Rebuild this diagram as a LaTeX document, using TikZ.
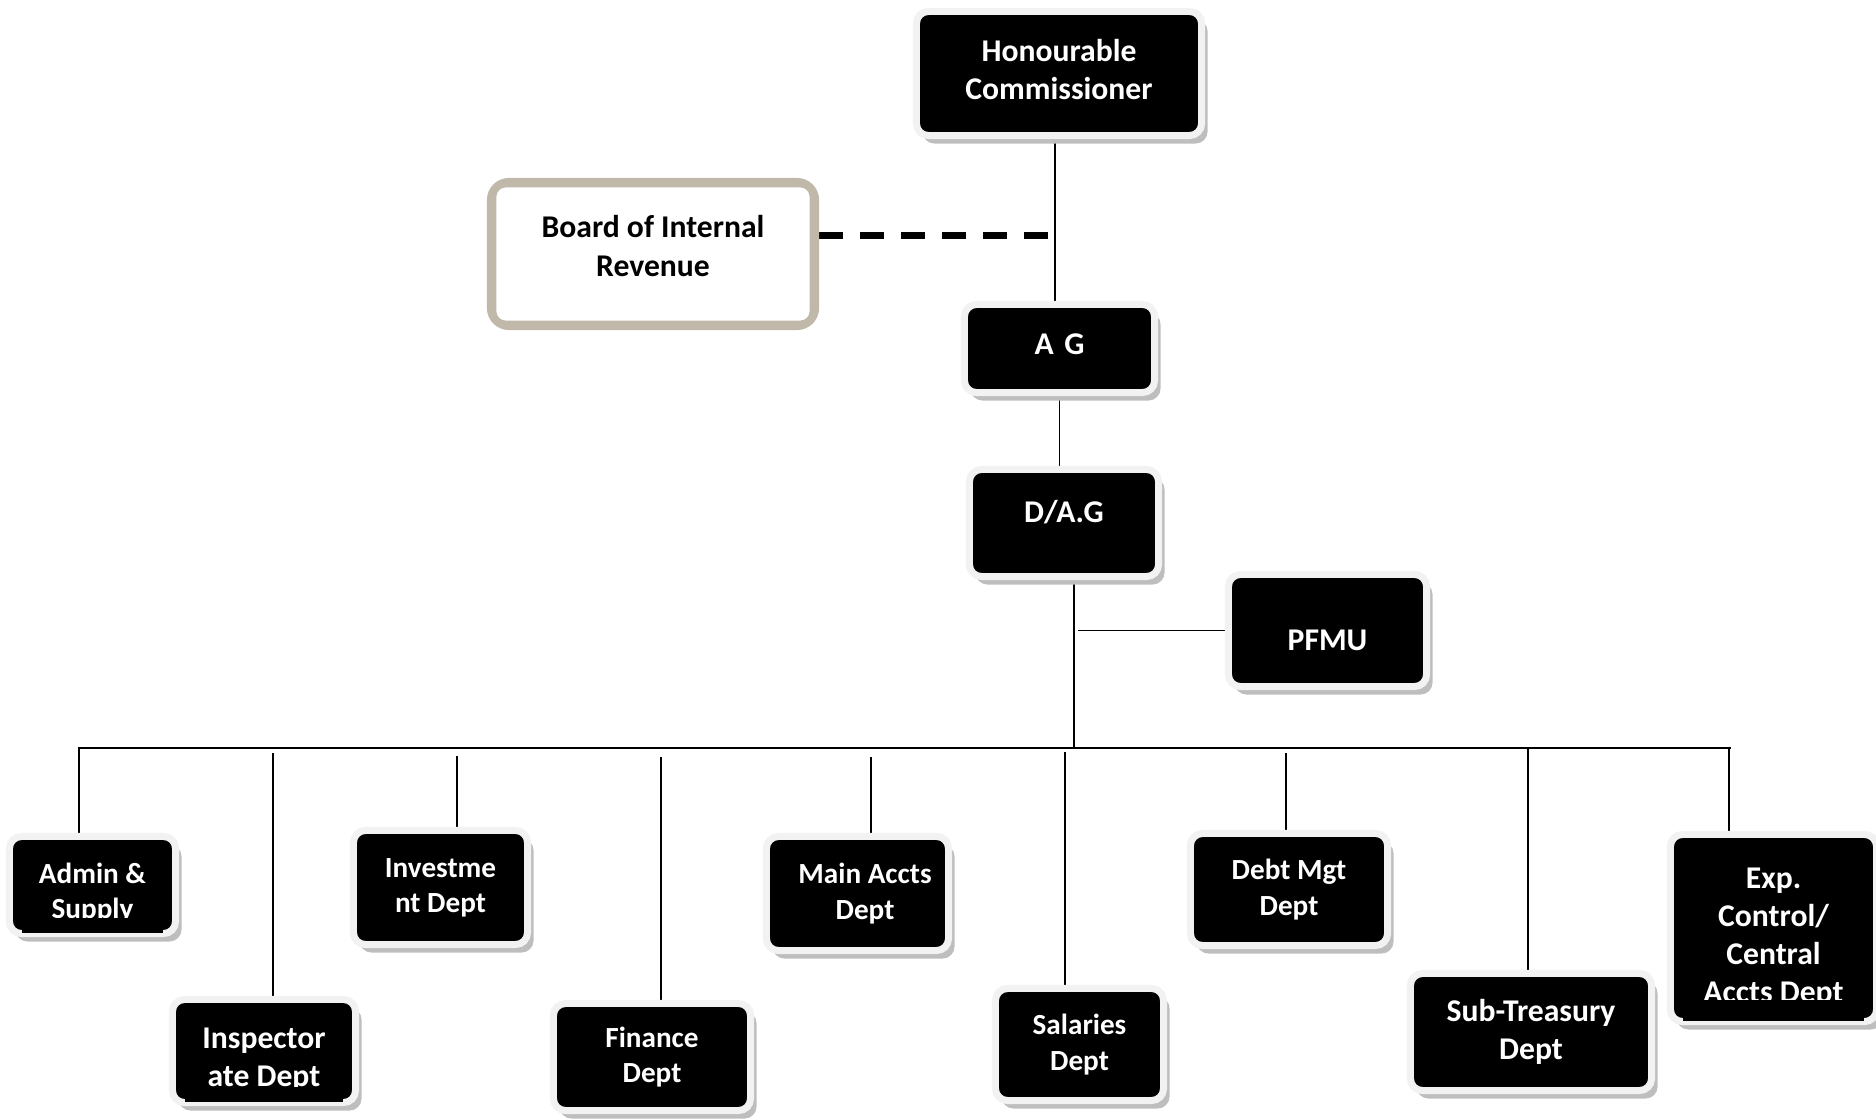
\documentclass[tikz,border=0pt]{standalone}
\usepackage{fontspec}
\setmainfont{Carlito}
\usetikzlibrary{calc, shadows, backgrounds}

\definecolor{rim}{RGB}{242,242,242}
\definecolor{shade}{RGB}{190,190,190}
\definecolor{taupe}{RGB}{192,185,170}

\begin{document}
\begin{tikzpicture}[x=0.01cm, y=-0.01cm,
 unit/.style={rectangle, rounded corners=0.12cm, fill=black, draw=rim, line width=0.07cm,
  text=white, align=center, inner sep=0pt, font=\bfseries\fontsize{9}{10.8}\selectfont,
  drop shadow={shadow xshift=0.06cm, shadow yshift=-0.08cm, fill=shade, opacity=1}},
 small/.style={font=\bfseries\fontsize{8.3}{10}\selectfont},
 board/.style={rectangle, rounded corners=0.18cm, fill=white, draw=taupe, line width=0.08cm,
  align=center, font=\bfseries\fontsize{9}{11}\selectfont},
 link/.style={line width=0.5pt}]
\useasboundingbox (0,0) rectangle (1876,1118);

\node[unit, minimum width=2.85cm, minimum height=1.24cm] (comm) at (1059,73.5) {Honourable\\Commissioner\rule[-2.3pt]{0pt}{2.3pt}};
\node[board, minimum width=3.24cm, minimum height=1.44cm] (bir) at (653,254) {Board of Internal\\Revenue\rule[-4.6pt]{0pt}{4.6pt}};
\draw[taupe, line width=0.02cm, rounded corners=0.1cm] ($(bir.south west)+(8.5,-8.5)$) rectangle ($(bir.north east)+(-8.5,8.5)$);
\node[unit, minimum width=1.90cm, minimum height=0.88cm, text height=5.8pt, text depth=2.3pt] (ag) at (1059.5,348.5) {A\,\,G};
\node[unit, minimum width=1.89cm, minimum height=1.07cm, text height=6pt, text depth=6.4pt] (dag) at (1064,523) {D/A.G};
\node[unit, minimum width=1.98cm, minimum height=1.12cm, text height=12pt, text depth=0.8pt] (pfmu) at (1327.5,630.5) {PFMU};

\node[unit, small, minimum width=1.66cm, minimum height=0.97cm] (admin) at (92.5,885) {\rule{0pt}{10.6pt}Admin \&\\Supply};
\node[unit, minimum width=1.83cm, minimum height=1.03cm] (insp) at (264,1051) {\rule{0pt}{10.9pt}Inspector\\ate Dept};
\node[unit, small, minimum width=1.74cm, minimum height=1.14cm] (invest) at (440.5,887.5) {Investme\\nt Dept};
\node[unit, small, minimum width=1.97cm, minimum height=1.07cm] (fin) at (652,1057) {Finance\\Dept};
\node[unit, small, minimum width=1.82cm, minimum height=1.14cm] (main) at (857.5,893.5) {\hspace*{1.5mm}Main Accts\\\hspace*{1.5mm}Dept};
\node[unit, small, minimum width=1.68cm, minimum height=1.12cm] (sal) at (1079.5,1044.5) {Salaries\\Dept};
\node[unit, small, minimum width=1.97cm, minimum height=1.12cm] (debt) at (1289,889.5) {Debt Mgt\\Dept};
\node[unit, minimum width=2.41cm, minimum height=1.17cm] (sub) at (1531,1032) {Sub-Treasury\\Dept};
\node[unit, minimum width=2.06cm, minimum height=1.87cm] (exp) at (1773.5,928) {\rule{0pt}{11.5pt}Exp.\\Control/\\Central\\Accts Dept};

\fill ($(admin.south west)+(16,-19)$) rectangle ($(admin.south east)+(-16,-4)$);
\fill ($(insp.south west)+(16,-19)$) rectangle ($(insp.south east)+(-16,-4)$);
\fill ($(exp.south west)+(16,-25)$) rectangle ($(exp.south east)+(-16,-4)$);

\coordinate (hinge) at (1055,235);
\coordinate (busL) at (79,748);
\coordinate (busR) at (1731,748);
\coordinate (bus) at (1074,748);

\begin{scope}[on background layer]
\draw[link] (comm.south -| hinge) -- (hinge |- ag.north);
\draw[line width=0.07cm, dash pattern=on 0.24cm off 0.17cm] (bir.east |- hinge) -- ($(hinge)+(-4,0)$);
\draw[link] (ag.south) -- (ag.south |- dag.north);
\draw[link] (dag.south -| bus) -- (bus);
\draw[link] ($(pfmu.west -| bus)+(4,0)$) -- (pfmu.west);
\draw[link] (busL) -- (busR);
\foreach \n/\x/\y in {admin/79/747, insp/273/753, invest/457/756, fin/661/757, main/871/757,
  sal/1065/752, debt/1286/753, sub/1528/747, exp/1729/747}
 \draw[link] (\x,\y) -- (\x,0 |- \n.north);
\end{scope}
\end{tikzpicture}
\end{document}
